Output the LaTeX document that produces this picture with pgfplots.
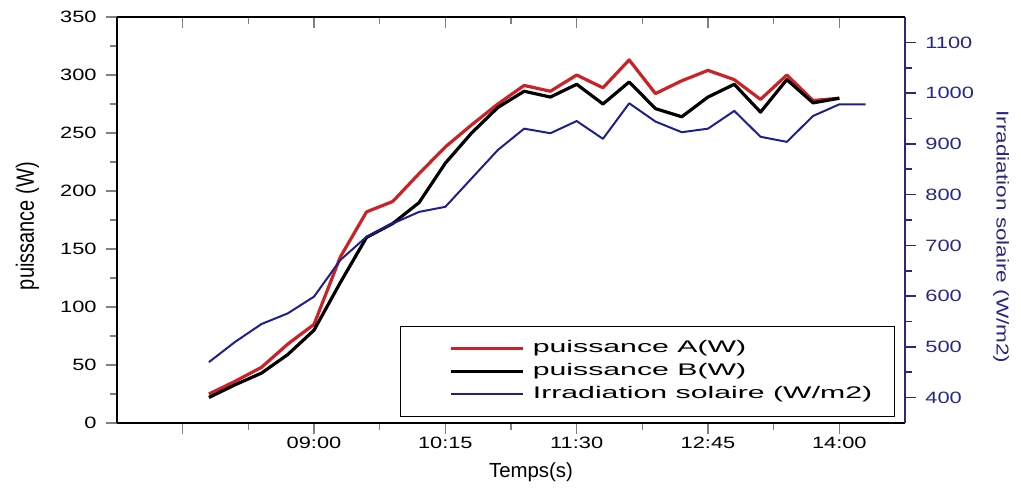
\documentclass[border=0pt]{standalone}
\usepackage{fontspec}
\setmainfont{Liberation Sans}
\usepackage{pgfplots}
\pgfplotsset{compat=1.18}
\usepackage{pgfplotstable}

\definecolor{pA}{RGB}{204,34,38}
\definecolor{irr}{RGB}{32,32,140}
\definecolor{irraxis}{RGB}{40,40,128}

% time in minutes since midnight, power in W
\pgfplotstableread{
t   A   B
480 25  22
495 36  33
510 48  43
525 68  59
540 85  80
555 143 121
570 182 160
585 191 172
600 215 190
615 238 224
630 257 250
645 275 272
660 291 286
675 286 281
690 300 292
705 289 275
720 313 294
735 284 271
750 295 264
765 304 281
780 296 292
795 279 268
810 300 296
825 278 276
840 280 280
}\puissance

% solar irradiation in W/m2
\pgfplotstableread{
t   G
480 470
495 510
510 545
525 566
540 599
555 671
570 717
585 743
600 766
615 776
630 832
645 888
660 930
675 921
690 945
705 910
720 980
735 944
750 923
765 930
780 965
795 914
810 904
825 955
840 978
855 978
}\irradiation

\pgfplotsset{
  common/.style={
    width=394pt, height=203pt, scale only axis,
    xmin=427.5, xmax=877.5,
    xtick={465,540,615,690,765,840},
    minor x tick num=1,
    major tick length=5.5pt, minor tick length=3.5pt,
    every tick/.append style={line width=0.8pt},
    tick label style={font=\fontsize{8.2}{9.5}\selectfont, xscale=1.33},
    /pgf/number format/assume math mode=true,
    /pgf/number format/1000 sep={},
    axis line style={-, line width=1pt},
  }
}

\begin{document}
\begin{tikzpicture}
\begin{axis}[common,
  axis x line*=bottom, axis y line*=left, tick align=outside,
  ymin=0, ymax=350, ytick={0,50,...,350}, minor y tick num=1,
  xticklabels={,09:00,10:15,11:30,12:45,14:00},
  xticklabel style={yshift=2pt},
  xlabel={Temps(s)},
  xlabel style={font=\fontsize{10.2}{12}\selectfont, at={(rel axis cs:0.5254,-0.1207)}, anchor=center},
  ylabel={\scalebox{1}[1.25]{puissance (W)}},
  ylabel style={font=\fontsize{10}{12}\selectfont, at={(rel axis cs:-0.1136,0.485)}, anchor=center},
  legend style={at={(rel axis cs:1,0)}, anchor=south east, xshift=-5pt, yshift=3pt,
    draw=black, line width=0.7pt, fill=white,
    inner xsep=11pt, inner ysep=7pt, row sep=3.5pt, column sep=4pt,
    font=\fontsize{8.4}{10}\selectfont,
    cells={anchor=west},
    nodes={inner sep=0pt, text height=6pt, text depth=2pt}},
  legend image code/.code={\path (0pt,0pt); \draw[#1] (13.5pt,0pt) -- (49.5pt,0pt);},
]
\addplot[pA, line width=1.6pt, line join=round] table[x=t, y=A] {\puissance};
\addlegendentry{\scalebox{1.8}[1]{puissance A(W)}}
\addplot[black, line width=1.6pt, line join=round] table[x=t, y=B] {\puissance};
\addlegendentry{\scalebox{1.8}[1]{puissance B(W)}}
\addlegendimage{irr, line width=1pt}
\addlegendentry{\scalebox{1.8}[1]{Irradiation solaire (W/m2)}}
\end{axis}

\begin{axis}[common,
  axis x line=none, axis y line*=right, tick align=outside,
  ymin=350, ymax=1150, ytick={400,500,...,1100}, minor y tick num=1,
  y axis line style={irraxis},
  y tick style={irraxis},
  yticklabel style={irraxis},
  ylabel={\scalebox{1.31}[1]{Irradiation solaire (W/m2)}},
  ylabel style={font=\fontsize{8.6}{10}\selectfont, irraxis, rotate=180, at={(rel axis cs:1.1218,0.458)}, anchor=center},
]
\addplot[irr, line width=1pt, line join=round] table[x=t, y=G] {\irradiation};
\end{axis}

\begin{axis}[common,
  axis x line*=top, axis y line=none, tick align=inside,
  xticklabels={}, ymin=0, ymax=1,
]
\end{axis}

\path[use as bounding box] (-58.5pt,-33pt) rectangle (452pt,211.5pt);
\end{tikzpicture}
\end{document}
